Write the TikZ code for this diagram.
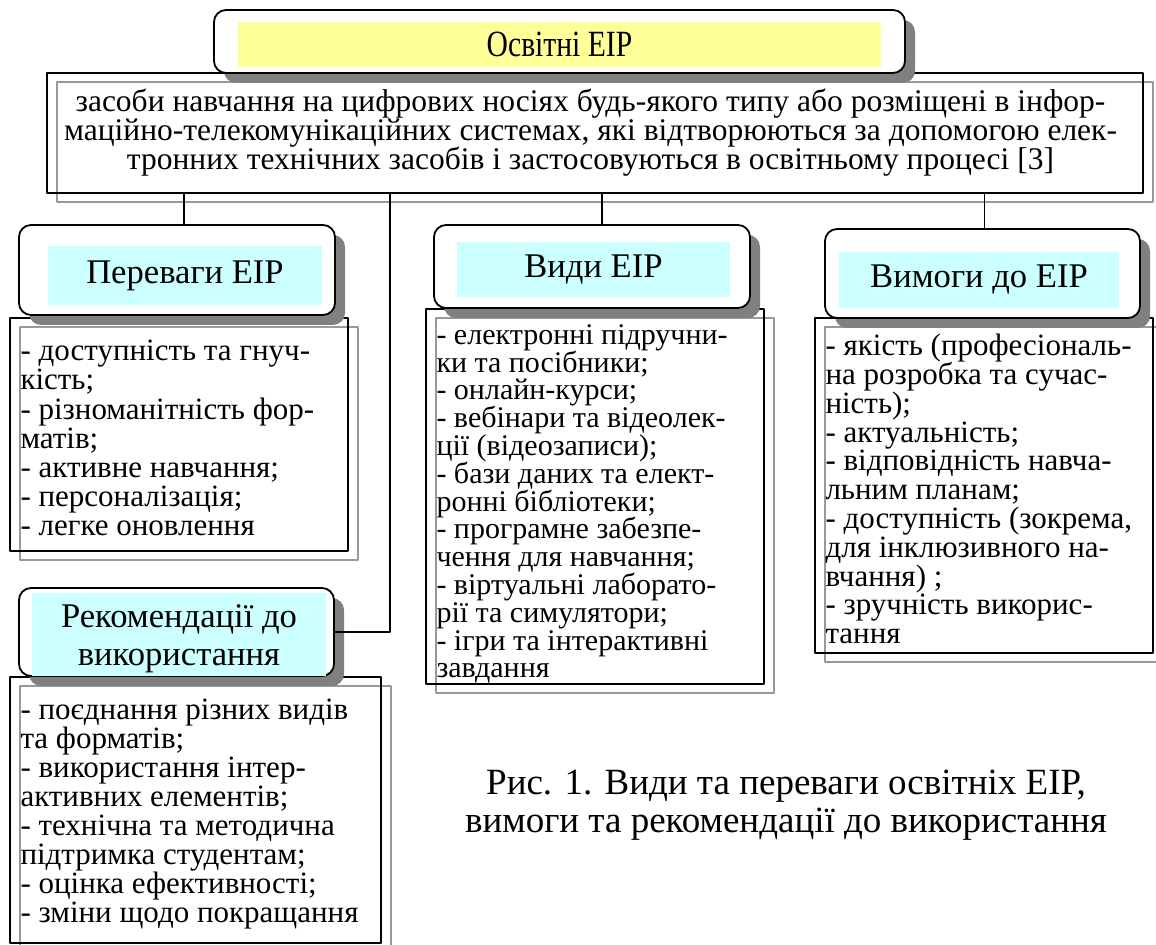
\documentclass[tikz,border=0pt]{standalone}
\usepackage{fontspec}
\setmainfont{Liberation Serif}
\newfontfamily\narrowserif[FakeStretch=0.8]{Liberation Serif}
\usetikzlibrary{shadows}
\definecolor{headcyan}{HTML}{CCFFFF}
\definecolor{headyellow}{HTML}{FFFF99}
\definecolor{framegray}{HTML}{999999}
\definecolor{shadowgray}{HTML}{808080}
\tikzset{
  headbox/.style={draw, line width=0.9pt, rounded corners=6pt, fill=white, inner sep=0pt,
    drop shadow={shadow xshift=5pt, shadow yshift=-5pt, fill=shadowgray, opacity=1}},
  headfill/.style={fill=headcyan, inner sep=0pt, align=center, font=\fontsize{17.3}{19}\selectfont},
  listbox/.style={draw, line width=0.9pt, inner sep=0pt,
    general shadow={shadow xshift=5pt, shadow yshift=-4.5pt, draw=framegray, line width=1pt}},
  listtext/.style={anchor=north west, inner sep=0pt, align=left},
  link/.style={draw, line width=0.9pt}
}
% tight line spacing as in the original
\newcommand\listfont[2][15.5]{\fontsize{#1}{#2}\selectfont\lineskiplimit=-20pt\lineskip=0pt}
\begin{document}
\begin{tikzpicture}[x=0.5pt, y=-0.5pt, line join=round]
  \useasboundingbox (0,0) rectangle (1156,945);
  % definition box
  \node[listbox, minimum width=548pt, minimum height=60pt] (desc) at (595,133) {};
  \node[anchor=north, inner sep=0pt, align=center,
    font={\fontsize{15.75}{14.5}\selectfont\lineskiplimit=-20pt\lineskip=0pt}] (desctext) at (590.5,88.5)
    {засоби навчання на цифрових носіях будь-якого типу або розміщені в інфор-\\
     маційно-телекомунікаційних системах, які відтворюються за допомогою елек-\\
     тронних технічних засобів і застосовуються в освітньому процесі [3]};
  % list boxes
  \node[listbox, minimum width=169pt, minimum height=116.5pt] (advlist) at (179,434.5) {};
  \node[listbox, minimum width=169pt, minimum height=187.5pt] (typeslist) at (595,496.5) {};
  \node[listbox, minimum width=169pt, minimum height=167.5pt] (reqlist) at (984,485.5) {};
  \node[listbox, minimum width=185.5pt, minimum height=133pt] (reclist) at (195.5,810) {};
  % headers
  \node[headbox, minimum width=345.5pt, minimum height=31.5pt] (title) at (559.5,41.5) {};
  \node[headbox, minimum width=158pt, minimum height=45pt] (adv) at (177,270) {};
  \node[headbox, minimum width=158pt, minimum height=41.5pt] (types) at (592,266.5) {};
  \node[headbox, minimum width=157.5pt, minimum height=44.5pt] (req) at (982.5,273.5) {};
  \node[headbox, minimum width=157.5pt, minimum height=44pt] (rec) at (176.5,632) {};
  % connectors
  \foreach \h/\dx in {adv/3.5pt, types/5pt, req/1pt}
    \draw[link] ([xshift=\dx]\h.north) -- ([xshift=\dx]\h.north |- desc.south);
  \draw[link] (rec.east) -| ([xshift=172pt]desc.south west);
  % header texts
  \node[fill=headyellow, inner sep=0pt, minimum width=321.5pt, minimum height=22.5pt,
    font=\narrowserif\fontsize{18.5}{20}\selectfont] (titletext) at (559.5,44.5) {Освітні ЕІР};
  \node[headfill, minimum width=137pt, minimum height=29.5pt] (advtext) at (185,275.5) {Переваги ЕІР};
  \node[headfill, minimum width=136.5pt, minimum height=27.5pt] (typestext) at (593.5,269.5) {Види ЕІР};
  \node[headfill, minimum width=140pt, minimum height=28pt] (reqtext) at (979,280) {Вимоги до ЕІР};
  \node[headfill, minimum width=147pt, minimum height=41.5pt] (recfill) at (179,634.5) {};
  \node[align=center, inner sep=0pt, font=\fontsize{17.3}{19}\selectfont] (rectext) at (179,639)
    {Рекомендації до\\використання};
  % list texts
  \node[listtext, font={\listfont{14.6}}] (advitems) at ([xshift=5.5pt, yshift=-11.3pt]advlist.north west)
    {- доступність та гнуч-\\кість;\\- різноманітність фор-\\матів;\\- активне навчання;\\- персоналізація;\\- легке оновлення};
  \node[listtext, font={\listfont[15]{13.9}}] (typesitems) at ([xshift=5.5pt, yshift=-8pt]typeslist.north west)
    {- електронні підручни-\\ки та посібники;\\- онлайн-курси;\\- вебінари та відеолек-\\ції (відеозаписи);\\- бази даних та елект-\\ронні бібліотеки;\\- програмне забезпе-\\чення для навчання;\\- віртуальні лаборато-\\рії та симулятори;\\- ігри та інтерактивні\\завдання};
  \node[listtext, font={\listfont{14.4}}] (reqitems) at ([xshift=5.5pt, yshift=-8.3pt]reqlist.north west)
    {- якість (професіональ-\\на розробка та сучас-\\ність);\\- актуальність;\\- відповідність навча-\\льним планам;\\- доступність (зокрема,\\для інклюзивного на-\\вчання) ;\\- зручність викорис-\\тання};
  \node[listtext, font={\listfont{14.5}}] (recitems) at ([xshift=5.5pt, yshift=-11.3pt]reclist.north west)
    {- поєднання різних видів\\та форматів;\\- використання інтер-\\активних елементів;\\- технічна та методична\\підтримка студентам;\\- оцінка ефективності;\\- зміни щодо покращання};
  % caption
  \node[align=center, inner sep=0pt, font=\fontsize{18.5}{19}\selectfont] (caption) at (786,805)
    {Рис. 1. Види та переваги освітніх ЕІР,\\вимоги та рекомендації до використання};
\end{tikzpicture}
\end{document}
